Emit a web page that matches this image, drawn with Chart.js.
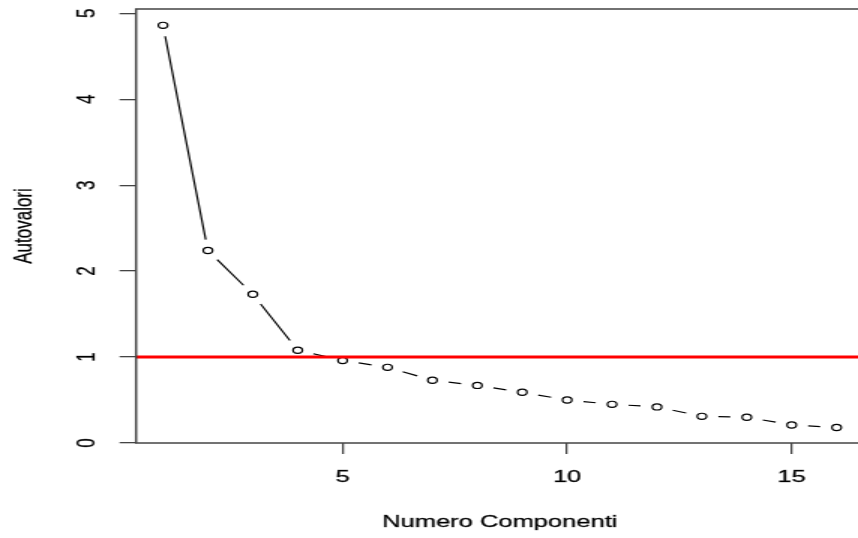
<!DOCTYPE html>
<html lang="it">
<head>
  <meta charset="UTF-8" />
  <title>Scree plot</title>
  <script src="https://cdn.jsdelivr.net/npm/chart.js"></script>
  <style>
    html, body {
      margin: 0;
      padding: 0;
      background: #fff;
      overflow: hidden;
    }
    /* the plot is drawn narrow and stretched sideways, like the R device output */
    #wrap {
      width: 580px;
      height: 538px;
      transform: scaleX(1.5);
      transform-origin: 0 0;
    }
  </style>
</head>
<body>
  <div id="wrap">
    <canvas id="scree"></canvas>
  </div>

  <script>
    const components = [1, 2, 3, 4, 5, 6, 7, 8, 9, 10, 11, 12, 13, 14, 15, 16];
    const eigenvalues = [4.86, 2.24, 1.73, 1.08, 0.96, 0.88, 0.73, 0.67, 0.59, 0.50, 0.45, 0.42, 0.31, 0.30, 0.21, 0.18];
    const xTicks = [5, 10, 15];
    const yTicks = [0, 1, 2, 3, 4, 5];
    const threshold = 1;
    const xLimits = [0.4, 16.6];
    const yLimits = [0, 5.05];

    const FONT = '17px "Liberation Sans", Arial, sans-serif';
    const AXIS_COLOR = '#444';

    // text a touch heavier, as the R png device renders it
    function label(ctx, text, x, y) {
      ctx.strokeText(text, x, y);
      ctx.fillText(text, x, y);
    }

    // type = "b": segments between the circles, with a gap around each point
    const screePlot = {
      id: 'screePlot',
      beforeDatasetsDraw(chart) {
        const pts = chart.getDatasetMeta(0).data;
        const gap = 11;
        const ctx = chart.ctx;
        ctx.save();
        ctx.strokeStyle = '#000';
        ctx.lineWidth = 1.2;
        ctx.beginPath();
        for (let i = 0; i < pts.length - 1; i++) {
          const a = pts[i], b = pts[i + 1];
          const dx = b.x - a.x, dy = b.y - a.y;
          const len = Math.hypot(dx, dy);
          if (len <= 2 * gap) continue;
          const ux = dx / len, uy = dy / len;
          ctx.moveTo(a.x + ux * gap, a.y + uy * gap);
          ctx.lineTo(b.x - ux * gap, b.y - uy * gap);
        }
        ctx.stroke();
        ctx.restore();
      },
      afterDraw(chart) {
        const {ctx, chartArea: area, scales} = chart;
        ctx.save();

        // box round the plot region
        ctx.strokeStyle = AXIS_COLOR;
        ctx.lineWidth = 1.5;
        ctx.strokeRect(area.left, area.top, area.right - area.left, area.bottom - area.top);

        ctx.fillStyle = '#000';
        ctx.strokeStyle = 'rgba(0,0,0,0.6)';
        ctx.lineWidth = 0.45;
        ctx.font = FONT;

        // x tick labels
        ctx.textAlign = 'center';
        ctx.textBaseline = 'middle';
        scales.x.ticks.forEach(t => {
          label(ctx, String(t.value), scales.x.getPixelForValue(t.value), area.bottom + 34);
        });

        // y tick labels, turned like las = 0
        scales.y.ticks.forEach(t => {
          ctx.save();
          ctx.translate(area.left - 32, scales.y.getPixelForValue(t.value));
          ctx.rotate(-Math.PI / 2);
          label(ctx, String(t.value), 0, 0);
          ctx.restore();
        });

        // axis titles
        label(ctx, 'Numero Componenti', (area.left + area.right) / 2, area.bottom + 79);
        ctx.save();
        ctx.translate(area.left - 74, (area.top + area.bottom) / 2);
        ctx.rotate(-Math.PI / 2);
        label(ctx, 'Autovalori', 0, 0);
        ctx.restore();

        ctx.restore();
      }
    };

    const ctx = document.getElementById('scree').getContext('2d');
    new Chart(ctx, {
      type: 'scatter',
      data: {
        datasets: [
          {
            label: 'Autovalori',
            data: components.map((c, i) => ({x: c, y: eigenvalues[i]})),
            showLine: false,
            pointRadius: 3.1,
            pointHoverRadius: 3.1,
            pointBorderWidth: 1.2,
            pointBorderColor: '#000',
            pointBackgroundColor: 'rgba(0,0,0,0)',
            order: 2
          },
          {
            label: 'Soglia',
            data: xLimits.map(x => ({x: x, y: threshold})),
            showLine: true,
            borderColor: '#ff0000',
            borderWidth: 3,
            pointRadius: 0,
            order: 1
          }
        ]
      },
      options: {
        responsive: true,
        maintainAspectRatio: false,
        animation: false,
        events: [],
        layout: {
          padding: {top: 9, right: 3.4, left: 0, bottom: 0}
        },
        plugins: {
          legend: {display: false},
          tooltip: {enabled: false}
        },
        scales: {
          x: {
            type: 'linear',
            min: xLimits[0],
            max: xLimits[1],
            afterBuildTicks: s => { s.ticks = xTicks.map(v => ({value: v})); },
            afterFit: s => { s.height = 95; },
            ticks: {display: false},
            border: {display: false},
            grid: {
              drawOnChartArea: false,
              drawTicks: true,
              tickLength: 11,
              color: AXIS_COLOR,
              lineWidth: 1.3
            }
          },
          y: {
            type: 'linear',
            min: yLimits[0],
            max: yLimits[1],
            afterBuildTicks: s => { s.ticks = yTicks.map(v => ({value: v})); },
            afterFit: s => { s.width = 90.7; },
            ticks: {display: false},
            border: {display: false},
            grid: {
              drawOnChartArea: false,
              drawTicks: true,
              tickLength: 11,
              color: AXIS_COLOR,
              lineWidth: 1.3
            }
          }
        }
      },
      plugins: [screePlot]
    });
  </script>
</body>
</html>
